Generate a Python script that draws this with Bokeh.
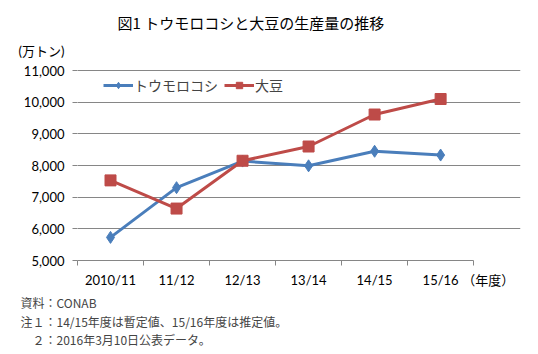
from bokeh.plotting import figure
from bokeh.models import (Range1d, FixedTicker, Legend, LegendItem, LinearAxis, Title, Label)
from bokeh.embed import file_html
from bokeh.resources import INLINE

categories = ["2010/11", "11/12", "12/13", "13/14", "14/15", "15/16"]
corn = [5730, 7300, 8140, 7990, 8450, 8330]
soy = [7530, 6640, 8150, 8600, 9610, 10100]
y_ticks = [5000, 6000, 7000, 8000, 9000, 10000, 11000]
y_tick_labels = ["5,000", "6,000", "7,000", "8,000", "9,000", "10,000", "11,000"]
x_unit_label = "（年度）"
title_text = "図1  トウモロコシと大豆の生産量の推移"
y_unit_label = "(万トン)"
notes = ["資料：CONAB", "注１：14/15年度は暫定値、15/16年度は推定値。", "　２：2016年3月10日公表データ。"]

BLUE = "#4A7EBB"
RED = "#BE4B48"
GRID = "#868686"
JP = "Noto Sans CJK JP"
LAT = "Lato, Noto Sans CJK JP"

n = len(categories)
xs = [i + 0.5 for i in range(n)]
unit_pos = n + 0.22
y_lo, y_hi = y_ticks[0], y_ticks[-1]
# frame reaches the top of the canvas; value range scaled so 5,000..11,000 spans 190 px
y_top = y_lo + (y_hi - y_lo) * 260 / 190
y_unit_pos = y_lo + (y_hi - y_lo) * 210 / 190

p = figure(width=538, height=354, output_backend="svg", toolbar_location=None,
           x_range=Range1d(0, 6.71), y_range=Range1d(y_lo, y_top),
           min_border_left=77, min_border_right=18, min_border_top=0, min_border_bottom=94)
p.outline_line_color = None
p.background_fill_color = "white"
p.border_fill_color = "white"

# x axis: line and boundary ticks only
p.xaxis.ticker = FixedTicker(ticks=[], minor_ticks=list(range(n + 1)))
p.xaxis.bounds = (0, n)
p.xaxis.major_tick_out = 0
p.xaxis.major_tick_in = 0
p.xaxis.minor_tick_out = 5
p.xaxis.minor_tick_in = 0
p.xaxis.minor_tick_line_color = GRID
p.xaxis.axis_line_color = GRID
p.xaxis.major_label_standoff = 0

# vertical axis line drawn as a bounded grid line at the frame's left edge
p.xgrid.ticker = FixedTicker(ticks=[0])
p.xgrid.grid_line_color = GRID
p.xgrid.grid_line_width = 1
p.xgrid.bounds = (y_lo, y_hi)

# second x axis: category labels and unit
lab_ax = LinearAxis(ticker=FixedTicker(ticks=xs + [unit_pos]),
                    major_label_overrides={**{x: c for x, c in zip(xs, categories)}, unit_pos: x_unit_label},
                    axis_line_color=None, major_tick_line_color=None, minor_tick_line_color=None,
                    major_tick_out=0, major_tick_in=0, minor_tick_out=0, minor_tick_in=0,
                    major_label_text_font=LAT, major_label_text_font_size="13px",
                    major_label_text_color="black", major_label_standoff=6)
p.add_layout(lab_ax, "below")

# y axis: value labels plus unit label; outward tick marks via minor ticks
p.yaxis.ticker = FixedTicker(ticks=y_ticks + [y_unit_pos], minor_ticks=y_ticks)
overrides = {float(t): s for t, s in zip(y_ticks, y_tick_labels)}
overrides[y_unit_pos] = y_unit_label
p.yaxis.major_label_overrides = overrides
p.yaxis.major_tick_out = 0
p.yaxis.major_tick_in = 0
p.yaxis.minor_tick_out = 5
p.yaxis.minor_tick_in = 0
p.yaxis.minor_tick_line_color = GRID
p.yaxis.axis_line_color = None
p.yaxis.major_label_text_font = LAT
p.yaxis.major_label_text_font_size = "13px"
p.yaxis.major_label_text_color = "black"
p.yaxis.major_label_standoff = 8
p.ygrid.ticker = FixedTicker(ticks=y_ticks)
p.ygrid.grid_line_color = GRID
p.ygrid.grid_line_width = 1
p.ygrid.bounds = (0, n)

r1l = p.line(xs, corn, line_color=BLUE, line_width=3)
r1m = p.scatter(xs, corn, marker="diamond", size=12, fill_color=BLUE, line_color=BLUE)
r2l = p.line(xs, soy, line_color=RED, line_width=3)
r2m = p.scatter(xs, soy, marker="square", size=11, fill_color=RED, line_color=RED)

legend = Legend(items=[LegendItem(label="トウモロコシ", renderers=[r1l, r1m]),
                       LegendItem(label="大豆", renderers=[r2l, r2m])],
                orientation="horizontal", location=(26, 165),
                label_text_font=JP, label_text_font_size="14px",
                glyph_width=30, glyph_height=16, label_standoff=1, spacing=6,
                padding=4, margin=0, border_line_color=None,
                background_fill_color="white", background_fill_alpha=1.0)
p.add_layout(legend, "center")

# chart title inside the (extended) frame, screen units from the frame's bottom-left
p.add_layout(Label(x=252 - 77, y=260 - 22, x_units="screen", y_units="screen", text=title_text,
                   text_font=JP, text_font_size="15px", text_align="center",
                   text_baseline="middle", text_color="black"))

# notes below
stand = [2, -1, -1]
for t, s in zip(notes, stand):
    p.add_layout(Title(text=t, align="left", offset=-57, text_font=JP,
                       text_font_size="12px", text_font_style="normal", standoff=s), "below")

open("out.html", "w").write(file_html(p, INLINE))
